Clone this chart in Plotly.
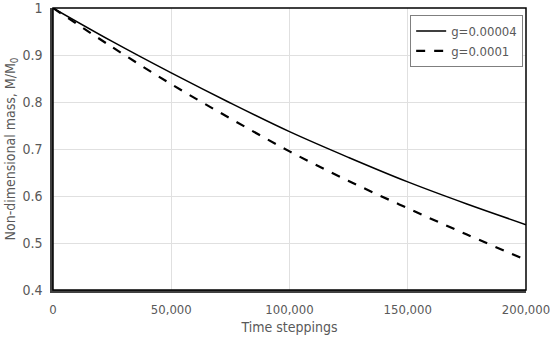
import plotly.graph_objects as go

steps = [0, 25000, 50000, 75000, 100000, 125000, 150000, 175000, 200000]
mass_g4e5 = [1.0, 0.929, 0.862, 0.798, 0.737, 0.682, 0.630, 0.583, 0.539]
mass_g1e4 = [1.0, 0.917, 0.838, 0.765, 0.695, 0.632, 0.574, 0.518, 0.464]

xLabel = 'Time steppings'
yLabel = 'Non-dimensional mass, M/M<sub>0</sub>'
grey = '#595959'
narrow = 'Liberation Sans Narrow, DejaVu Sans Condensed, Lato, sans-serif'

fig = go.Figure(data=[
    go.Scatter(name='g=0.00004', x=steps, y=mass_g4e5, mode='lines',
               line=dict(color='black', width=1.5, shape='spline')),
    go.Scatter(name='g=0.0001', x=steps, y=mass_g1e4, mode='lines',
               line=dict(color='black', width=2.2, dash='dash', shape='spline')),
])

fig.update_layout(
    width=550, height=342,
    margin=dict(l=53, r=24, t=8, b=52, autoexpand=False),
    plot_bgcolor='white', paper_bgcolor='white',
    font=dict(family=narrow, size=14, color=grey),
    legend=dict(x=0.994, y=0.975, xanchor='right', yanchor='top',
                bordercolor='#7f7f7f', borderwidth=1, bgcolor='white',
                font=dict(size=13, color=grey), tracegroupgap=4),
    xaxis=dict(title=dict(text=xLabel, standoff=6, font=dict(size=14)),
               range=[0, 200000], dtick=50000, automargin=False,
               ticklabeloverflow='allow', tickfont=dict(size=13), ticklabelstandoff=6,
               tickformat=',d', showgrid=True, gridcolor='#e0e0e0',
               showline=True, linecolor='#404040', linewidth=2.5,
               ticks='', zeroline=False),
    yaxis=dict(title=dict(text=yLabel, standoff=4, font=dict(size=14)),
               range=[0.4, 1.0001], tickvals=[0.4, 0.5, 0.6, 0.7, 0.8, 0.9, 1.0],
               ticktext=['0.4', '0.5', '0.6', '0.7', '0.8', '0.9', '1'], automargin=False,
               ticklabeloverflow='allow', ticklabelstandoff=5,
               showgrid=True, gridcolor='#e0e0e0',
               showline=True, linecolor='#404040', linewidth=2.5,
               ticks='', zeroline=False),
    showlegend=True,
)
fig.add_shape(type='rect', xref='paper', yref='paper', x0=0, y0=0, x1=1, y1=1,
              line=dict(color='black', width=1.5), layer='above')

# no page margin, and let edge tick labels ("1", "200,000") draw past the svg box
fix_page = ("document.body.style.margin='0';"
            "document.querySelectorAll('svg.main-svg').forEach(function(s){s.style.overflow='visible';});")
fig.write_html('out.html', post_script=fix_page, config={'displayModeBar': False})
